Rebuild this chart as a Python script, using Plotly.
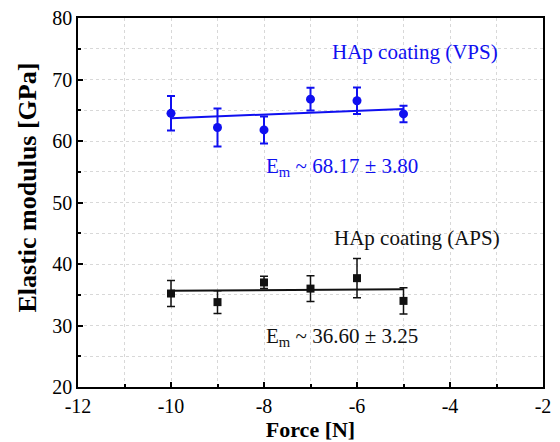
import plotly.graph_objects as go

force = [-10, -9, -8, -7, -6, -5]
vps_mod = [64.5, 62.2, 61.8, 66.8, 66.55, 64.4]
vps_err = [2.8, 3.1, 2.2, 1.85, 2.15, 1.35]
aps_mod = [35.2, 33.8, 37.0, 36.0, 37.7, 34.0]
aps_err = [2.1, 1.85, 1.0, 2.1, 3.2, 2.15]
fit_x = [-10, -5]
vps_fit = [63.7, 65.2]
aps_fit = [35.65, 35.9]
x_ticks = [-12, -10, -8, -6, -4, -2]
x_tick_labels = ["-12", "-10", "-8", "-6", "-4", "-2"]
y_ticks = [20, 30, 40, 50, 60, 70, 80]
y_tick_labels = ["20", "30", "40", "50", "60", "70", "80"]

blue = "#1010f0"
black = "#111111"
font = "Liberation Serif"

fig = go.Figure()
fig.add_trace(go.Scatter(x=fit_x, y=vps_fit, mode="lines", line=dict(color=blue, width=2), showlegend=False))
fig.add_trace(go.Scatter(x=force, y=vps_mod, mode="markers",
                         marker=dict(symbol="circle", size=9, color=blue),
                         error_y=dict(type="data", array=vps_err, color=blue, thickness=2, width=4),
                         showlegend=False))
fig.add_trace(go.Scatter(x=fit_x, y=aps_fit, mode="lines", line=dict(color=black, width=2), showlegend=False))
fig.add_trace(go.Scatter(x=force, y=aps_mod, mode="markers",
                         marker=dict(symbol="square", size=8, color=black),
                         error_y=dict(type="data", array=aps_err, color=black, thickness=1.5, width=4),
                         showlegend=False))

grid = dict(showgrid=True, gridcolor="#d8d8d8", griddash="dot", gridwidth=1)
fig.update_xaxes(range=[-12, -2], tickmode="array", tickvals=x_ticks, ticktext=x_tick_labels,
                 ticks="inside", ticklen=5, tickwidth=1.5,
                 tickcolor="black", showline=True, linecolor="black", linewidth=1.5, mirror=True,
                 minor=dict(dtick=1, tick0=-12, ticks="inside", ticklen=3, tickcolor="black", showgrid=True,
                            gridcolor="#d8d8d8", griddash="dot"),
                 tickfont=dict(family=font, size=20, color="black"),
                 title=dict(text="<b>Force [N]</b>", font=dict(family=font, size=22, color="black"), standoff=0),
                 zeroline=False, automargin=False, **grid)
fig.update_yaxes(range=[20, 80], tickmode="array", tickvals=y_ticks, ticktext=y_tick_labels,
                 ticks="inside", ticklen=5, tickwidth=1.5,
                 tickcolor="black", showline=True, linecolor="black", linewidth=1.5, mirror=True,
                 minor=dict(dtick=5, tick0=20, ticks="inside", ticklen=3, tickcolor="black", showgrid=True,
                            gridcolor="#d8d8d8", griddash="dot"),
                 tickfont=dict(family=font, size=20, color="black"),
                 zeroline=False, automargin=False, **grid)

fig.add_annotation(x=-0.108, y=0.54, xref="paper", yref="paper", text="<b>Elastic modulus [GPa]</b>",
                   textangle=-90, showarrow=False, xanchor="center", yanchor="middle",
                   font=dict(family=font, size=26, color="black"))

annos = [
    dict(x=-4.75, y=74.5, text="HAp coating (VPS)", color=blue),
    dict(x=-6.33, y=55.7, text="E<sub>m</sub> ~ 68.17 ± 3.80", color=blue),
    dict(x=-4.71, y=44.3, text="HAp coating (APS)", color=black),
    dict(x=-6.33, y=28.2, text="E<sub>m</sub> ~ 36.60 ± 3.25", color=black),
]
for a in annos:
    fig.add_annotation(x=a["x"], y=a["y"], text=a["text"], showarrow=False,
                       font=dict(family=font, size=21, color=a["color"]))

fig.update_layout(width=560, height=442, margin=dict(l=78, r=17, t=18, b=55),
                  plot_bgcolor="white", paper_bgcolor="white")
fig.write_html("out.html", config={"displayModeBar": False},
               post_script="document.body.style.margin='0';document.body.style.overflow='hidden';")
